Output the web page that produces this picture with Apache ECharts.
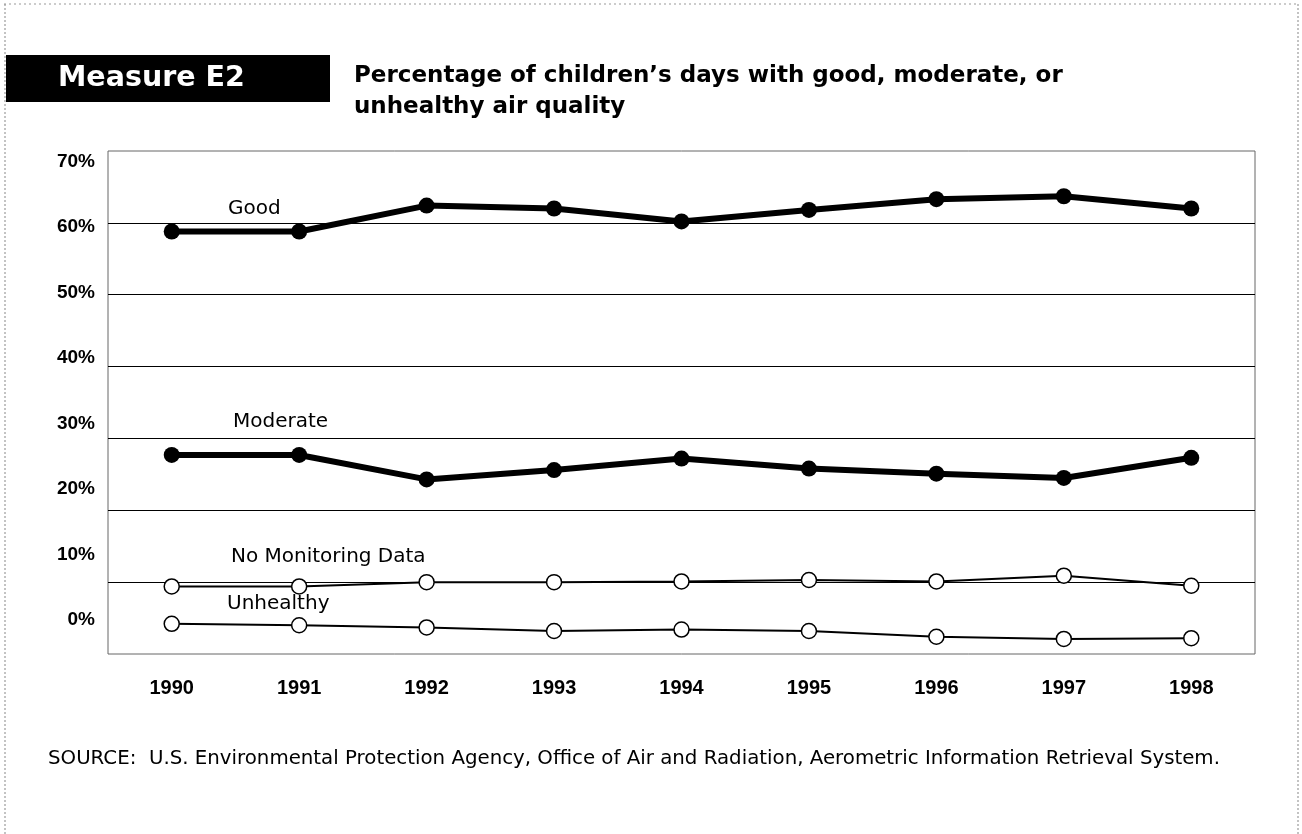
<!DOCTYPE html>
<html>
<head>
<meta charset="utf-8">
<script src="https://cdn.jsdelivr.net/npm/echarts@6/dist/echarts.min.js"></script>
<style>
  html, body { margin: 0; padding: 0; background: #fff; }
  #chart { width: 1302px; height: 834px; }
</style>
</head>
<body>
<div id="chart"></div>
<script>
// ---- data ----
const years = ['1990', '1991', '1992', '1993', '1994', '1995', '1996', '1997', '1998'];
const good = [58.8, 58.8, 62.4, 62.0, 60.2, 61.8, 63.3, 63.7, 62.0];
const moderate = [27.7, 27.7, 24.3, 25.6, 27.2, 25.8, 25.1, 24.5, 27.3];
const noMonitoring = [9.4, 9.4, 10.0, 10.0, 10.1, 10.3, 10.1, 10.9, 9.5];
const unhealthy = [4.2, 4.0, 3.7, 3.2, 3.4, 3.2, 2.4, 2.1, 2.2];
const tickValues = [0, 10, 20, 30, 40, 50, 60, 70];
const seriesNames = ['Good', 'Moderate', 'No Monitoring Data', 'Unhealthy'];
const measureLabel = 'Measure E2';
const titleLines = ['Percentage of children\u2019s days with good, moderate, or', 'unhealthy air quality'];
const sourceText = 'SOURCE:  U.S. Environmental Protection Agency, Office of Air and Radiation, Aerometric Information Retrieval System.';

const chart = echarts.init(document.getElementById('chart'), null, { renderer: 'canvas' });

const thick = (name, data) => ({
  name, type: 'line', data, yAxisIndex: 0,
  symbol: 'circle', symbolSize: 16, showAllSymbol: true,
  lineStyle: { color: '#000', width: 6 },
  itemStyle: { color: '#000' },
  z: 3
});
const thin = (name, data) => ({
  name, type: 'line', data, yAxisIndex: 0,
  symbol: 'circle', symbolSize: 15, showAllSymbol: true,
  lineStyle: { color: '#000', width: 2 },
  itemStyle: { color: '#fff', borderColor: '#000', borderWidth: 1.5 },
  z: 3
});

const labelFont = '20px "DejaVu Sans", sans-serif';

chart.setOption({
  animation: false,
  backgroundColor: '#fff',
  grid: {
    left: 108, right: 47, top: 151, bottom: 180,
    show: true, borderColor: '#666', borderWidth: 1, backgroundColor: 'transparent'
  },
  xAxis: {
    type: 'category', data: years, boundaryGap: true,
    axisLine: { show: false }, axisTick: { show: false },
    axisLabel: {
      margin: 24, color: '#000', fontSize: 20, fontWeight: 'bold',
      fontFamily: '"Liberation Sans", Arial, sans-serif'
    }
  },
  yAxis: [
    {
      type: 'value', min: 0, max: 70, interval: 10,
      axisLine: { show: false }, axisTick: { show: false },
      axisLabel: { show: false },
      splitLine: { show: true, showMinLine: false, showMaxLine: false, lineStyle: { color: '#000', width: 1.2 } }
    },
    {
      type: 'value', min: -5.23, max: 71.64, position: 'left',
      axisLine: { show: false }, axisTick: { show: false },
      splitLine: { show: false },
      axisLabel: {
        customValues: tickValues,
        formatter: '{value}%', margin: 13, color: '#000', fontSize: 19, fontWeight: 'bold',
        fontFamily: '"Liberation Sans", Arial, sans-serif'
      }
    }
  ],
  series: [
    thick(seriesNames[0], good),
    thick(seriesNames[1], moderate),
    thin(seriesNames[2], noMonitoring),
    thin(seriesNames[3], unhealthy)
  ],
  graphic: [
    // page border (scan frame)
    { type: 'line', shape: { x1: 4, y1: 4, x2: 1298, y2: 4 }, style: { stroke: '#999', lineWidth: 1, lineDash: [2, 3] }, silent: true },
    { type: 'line', shape: { x1: 5, y1: 4, x2: 5, y2: 834 }, style: { stroke: '#888', lineWidth: 1, lineDash: [2, 2] }, silent: true },
    { type: 'line', shape: { x1: 1298, y1: 4, x2: 1298, y2: 834 }, style: { stroke: '#888', lineWidth: 1, lineDash: [2, 2] }, silent: true },
    // Measure box
    { type: 'rect', shape: { x: 6, y: 55, width: 324, height: 47 }, style: { fill: '#000' }, silent: true },
    { type: 'text', x: 58, y: 79, style: { text: measureLabel, fill: '#fff', font: 'bold 28.5px "DejaVu Sans", sans-serif', verticalAlign: 'middle', align: 'left' }, silent: true },
    // title
    { type: 'text', x: 354, y: 76, style: { text: titleLines[0], fill: '#000', font: 'bold 23px "DejaVu Sans", sans-serif', verticalAlign: 'middle', align: 'left' }, silent: true },
    { type: 'text', x: 354, y: 107, style: { text: titleLines[1], fill: '#000', font: 'bold 23px "DejaVu Sans", sans-serif', verticalAlign: 'middle', align: 'left' }, silent: true },
    // series labels
    { type: 'text', x: 228, y: 209, style: { text: seriesNames[0], fill: '#000', font: labelFont, verticalAlign: 'middle' }, silent: true },
    { type: 'text', x: 233, y: 422, style: { text: seriesNames[1], fill: '#000', font: labelFont, verticalAlign: 'middle' }, silent: true },
    { type: 'text', x: 231, y: 557, style: { text: seriesNames[2], fill: '#000', font: labelFont, verticalAlign: 'middle' }, silent: true },
    { type: 'text', x: 227, y: 604, style: { text: seriesNames[3], fill: '#000', font: labelFont, verticalAlign: 'middle' }, silent: true },
    // source
    { type: 'text', x: 48, y: 759, style: { text: sourceText, fill: '#000', font: '19.8px "DejaVu Sans", sans-serif', verticalAlign: 'middle' }, silent: true }
  ]
});
</script>
</body>
</html>
